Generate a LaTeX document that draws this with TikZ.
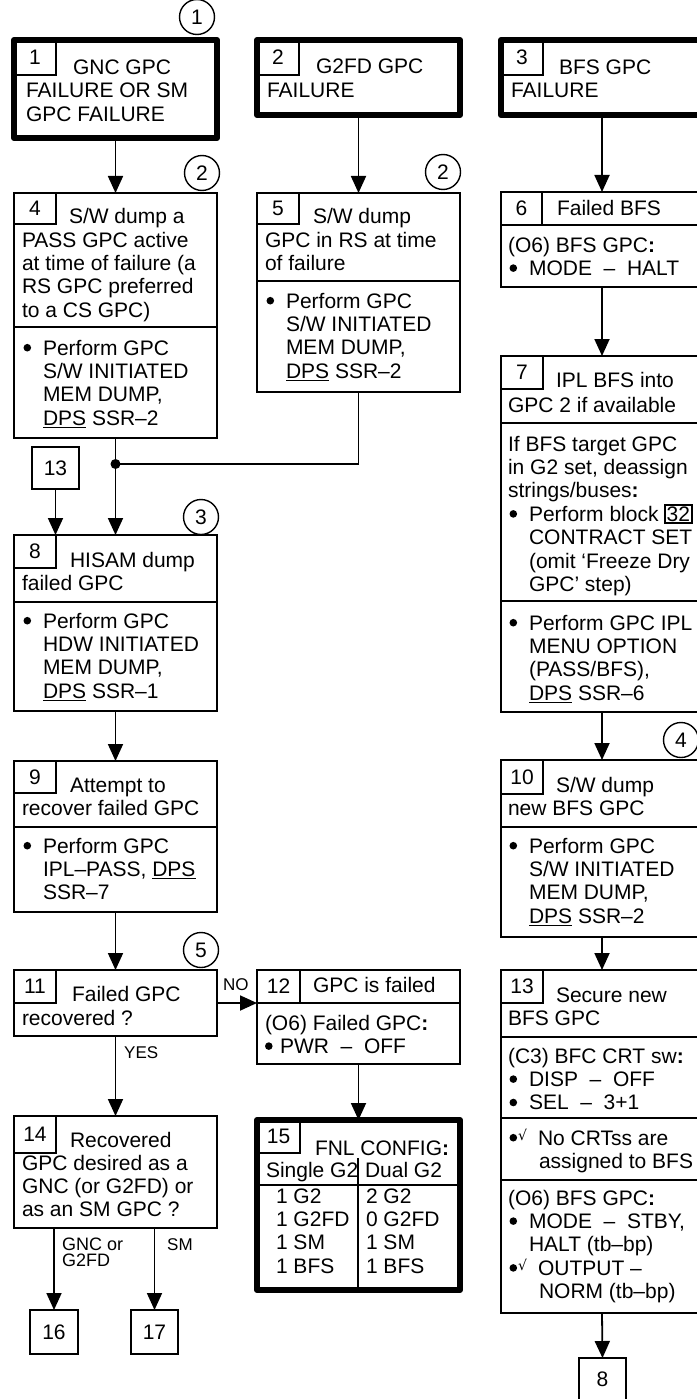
\documentclass[tikz,border=0pt]{standalone}
\usepackage{fontspec}
\setmainfont{Liberation Sans}
\newfontfamily\djvfont{DejaVu Sans}
\usetikzlibrary{arrows.meta}
\setlength\fboxsep{1pt}
\setlength\fboxrule{1.4pt}
\newcommand\mydot{\raisebox{3.5pt}{\tikz\fill (0,0) circle (3.8pt);}}
\newcommand\myblt{\makebox[21pt][l]{\hspace{1.5pt}\mydot}}
\newcommand\myind{\hspace*{21pt}}
\newcommand\mybck{\makebox[30pt][l]{\hspace{1.5pt}\mydot\hspace{1pt}\raisebox{5pt}{\djvfont\fontsize{14}{14}\selectfont √}}}
\newcommand\myindd{\hspace*{31pt}}
\newcommand\mycln{\textbf{:}}
\newcommand\mydsh{\ \ –\ \ }
\newcommand\mybx[7][]{\pgfmathsetmacro\bxw{#5-#3}\pgfmathsetmacro\bxh{#6-#4}%
  \node[boxst,minimum width=\bxw pt,minimum height=\bxh pt,anchor=north west,#1] (#2) at (#3,#4) {#7};}
\newcommand\mytx[4]{\node[txt] (#1) at (#2,#3) {\begin{tabular}[t]{@{}l@{}}#4\end{tabular}};}
\begin{document}
\begin{tikzpicture}[x=1pt,y=-1pt,
  every node/.style={font=\fontsize{21}{23.4}\selectfont},
  boxst/.style={draw,line width=1.8pt,inner sep=0pt,outer sep=0pt},
  thickbox/.style={line width=6pt,line join=round},
  txt/.style={anchor=base west,inner sep=0pt,outer sep=0pt},
  conn/.style={line width=1.8pt},
  arr/.style={conn,-{Triangle[width=15pt,length=17pt]}},
  circ/.style={draw,circle,line width=1.4pt,minimum size=35pt,inner sep=0pt},
  lbl/.style={anchor=base west,inner sep=0pt,font=\fontsize{16}{16}\selectfont},
  divl/.style={line width=1.8pt}]
\useasboundingbox (0,0) rectangle (696,1399);
\fill[white] (0,0) rectangle (696,1399);

% ---------- column 1 ----------
\node[circ] (c1) at (197,17) {1};
\mybx[thickbox]{b1}{14}{40}{217}{138}{}
\mybx{n1}{14}{40}{56}{75}{1}
\mytx{t1a}{73}{75}{GNC GPC}
\mytx{t1b}{26}{98}{FAILURE OR SM\\GPC FAILURE}

\node[circ] (c2a) at (202,173) {2};
\mybx{b4}{14}{193}{217}{438}{}
\mybx{n4}{14}{193}{56}{224}{4}
\mytx{t4a}{69}{223}{S/W dump a}
\mytx{t4b}{22}{247}{PASS GPC active\\at time of failure (a\\RS GPC preferred\\to a CS GPC)}
\draw[divl] (14,327) -- (217,327);
\mytx{t4c}{22}{355}{\myblt Perform GPC\\\myind S/W INITIATED\\\myind MEM DUMP,\\\myind \underline{DPS} SSR–2}

\mybx{s13}{32}{447}{79}{489}{13}
\node[circle,fill,inner sep=0pt,minimum size=10pt] (dot) at (115.5,464) {};
\node[circ] (c3) at (201,517) {3};
\mybx{b8}{14}{535}{217}{711}{}
\mybx{n8}{14}{535}{56}{568}{8}
\mytx{t8a}{70}{567}{HISAM dump}
\mytx{t8b}{22}{590}{failed GPC}
\draw[divl] (14,602) -- (217,602);
\mytx{t8c}{22}{628}{\myblt Perform GPC\\\myind HDW INITIATED\\\myind MEM DUMP,\\\myind \underline{DPS} SSR–1}

\mybx{b9}{14}{761}{217}{912}{}
\mybx{n9}{14}{761}{56}{793}{9}
\mytx{t9a}{70}{792}{Attempt to}
\mytx{t9b}{22}{815}{recover failed GPC}
\draw[divl] (14,827) -- (217,827);
\mytx{t9c}{22}{853}{\myblt Perform GPC\\\myind IPL–PASS, \underline{DPS}\\\myind SSR–7}

\node[circ] (c5) at (201,950) {5};
\mybx{b11}{14}{970}{217}{1036}{}
\mybx{n11}{14}{970}{56}{1003}{11}
\mytx{t11a}{72}{1001}{Failed GPC}
\mytx{t11b}{22}{1025}{recovered ?}

\mybx{b14}{14}{1116}{217}{1228}{}
\mybx{n14}{14}{1116}{56}{1153}{14}
\mytx{t14a}{70}{1147}{Recovered}
\mytx{t14b}{22}{1170}{GPC desired as a\\GNC (or G2FD) or\\as an SM GPC ?}

\mybx{b16}{30}{1310}{78}{1354}{16}
\mybx{b17}{131}{1310}{178}{1354}{17}
\node[lbl,font=\fontsize{18}{12}\selectfont] (l16) at (62,1250) {\begin{tabular}[t]{@{}l@{}}GNC or\\G2FD\end{tabular}};
\node[lbl,font=\fontsize{17}{17}\selectfont] (l17) at (167,1250) {SM};
\node[lbl,font=\fontsize{17}{17}\selectfont] (yes) at (124,1058) {YES};
\node[lbl,font=\fontsize{17}{17}\selectfont] (no) at (223,990) {NO};

% ---------- column 2 ----------
\mybx[thickbox]{b2}{257}{40}{460}{115}{}
\mybx{n2}{257}{40}{299}{75}{2}
\mytx{t2a}{316}{74}{G2FD GPC}
\mytx{t2b}{267}{98}{FAILURE}

\node[circ] (c2b) at (443,172) {2};
\mybx{b5}{257}{193}{460}{392}{}
\mybx{n5}{257}{193}{299}{224}{5}
\mytx{t5a}{313}{223}{S/W dump}
\mytx{t5b}{265}{247}{GPC in RS at time\\of failure}
\draw[divl] (257,281) -- (460,281);
\mytx{t5c}{265}{308}{\myblt Perform GPC\\\myind S/W INITIATED\\\myind MEM DUMP,\\\myind \underline{DPS} SSR–2}

\mybx{b12}{257}{970}{460}{1064}{}
\mybx{n12}{257}{970}{300}{1003}{12}
\draw[divl] (300,1003) -- (460,1003);
\mytx{t12a}{313}{992}{GPC is failed}
\mytx{t12b}{265}{1030}{(O6) Failed GPC\mycln\\\makebox[15pt][l]{\mydot}PWR\mydsh OFF}

\mybx[thickbox]{b15}{257}{1120}{460}{1290}{}
\mybx{n15}{257}{1120}{300}{1153}{15}
\mytx{t15a}{315}{1155}{FNL CONFIG\mycln}
\mytx{t15b}{266}{1177}{Single G2}
\mytx{t15c}{365}{1177}{Dual G2}
\draw[divl] (257,1185) -- (460,1185);
\draw[divl] (358,1158) -- (358,1290);
\mytx{t15d}{276}{1203}{1 G2\\1 G2FD\\1 SM\\1 BFS}
\mytx{t15e}{366}{1203}{2 G2\\0 G2FD\\1 SM\\1 BFS}

% ---------- column 3 ----------
\mybx[thickbox]{b3}{501}{40}{703}{115}{}
\mybx{n3}{501}{40}{543}{75}{3}
\mytx{t3a}{559}{75}{BFS GPC}
\mytx{t3b}{511}{98}{FAILURE}

\mybx{b6}{501}{192}{703}{287}{}
\mybx{n6}{501}{192}{542}{225}{6}
\draw[divl] (542,225) -- (703,225);
\mytx{t6a}{557}{215}{Failed BFS}
\mytx{t6b}{508}{252}{(O6) BFS GPC\mycln\\\myblt MODE\mydsh HALT}

\mybx{b7}{501}{356}{703}{712}{}
\mybx{n7}{501}{356}{543}{389}{7}
\mytx{t7a}{556}{387}{IPL BFS into}
\mytx{t7b}{508}{412}{GPC 2 if available}
\draw[divl] (501,423) -- (703,423);
\mytx{t7c}{508}{451}{If BFS target GPC\\in G2 set, deassign\\strings/buses\mycln\\\myblt Perform block \smash{\fbox{32}}\\\myind CONTRACT SET\\\myind (omit ‘Freeze Dry\\\myind GPC’ step)}
\draw[divl] (501,601) -- (703,601);
\mytx{t7d}{508}{630}{\myblt Perform GPC IPL\\\myind MENU OPTION\\\myind (PASS/BFS),\\\myind \underline{DPS} SSR–6}
\node[circ] (c4) at (681,740) {4};

\mybx{b10}{501}{760}{703}{937}{}
\mybx{n10}{501}{760}{543}{794}{10}
\mytx{t10a}{556}{792}{S/W dump}
\mytx{t10b}{508}{815}{new BFS GPC}
\draw[divl] (501,827) -- (703,827);
\mytx{t10c}{508}{853}{\myblt Perform GPC\\\myind S/W INITIATED\\\myind MEM DUMP,\\\myind \underline{DPS} SSR–2}

\mybx{b13}{501}{970}{703}{1313}{}
\mybx{n13}{501}{970}{543}{1003}{13}
\mytx{t13a}{556}{1002}{Secure new}
\mytx{t13b}{508}{1025}{BFS GPC}
\draw[divl] (501,1037) -- (703,1037);
\mytx{t13c}{508}{1063}{(C3) BFC CRT sw\mycln\\\myblt DISP\mydsh OFF\\\myblt SEL\mydsh 3+1}
\draw[divl] (501,1118) -- (703,1118);
\mytx{t13d}{508}{1145}{\mybck No CRTss are\\\myindd assigned to BFS}
\draw[divl] (501,1180) -- (703,1180);
\mytx{t13e}{508}{1205}{(O6) BFS GPC\mycln\\\myblt MODE\mydsh STBY,\\\myind HALT (tb–bp)\\\mybck OUTPUT –\\\myindd NORM (tb–bp)}
\mybx{b8b}{579}{1358}{626}{1400}{8}

% ---------- connectors ----------
\draw[arr] (b1.south) -- (b4.north);
\draw[arr] (b2.south) -- (b5.north);
\draw[arr] (b3.south) -- (b6.north);
\draw[conn] (b5.south) |- (dot.center);
\draw[arr] (b4.south) -- (b8.north);
\draw[arr] (s13.south) -- (s13.south |- b8.north);
\draw[arr] (b8.south) -- (b9.north);
\draw[arr] (b9.south) -- (b11.north);
\draw[arr] (b11.east) -- (n12.south west);
\draw[arr] (b11.south) -- (b14.north);
\draw[arr] (b12.south) -- (b15.north);
\draw[arr] (b16.north |- b14.south) -- (b16.north);
\draw[arr] (b17.north |- b14.south) -- (b17.north);
\draw[arr] (b6.south) -- (b7.north);
\draw[arr] (b7.south) -- (b10.north);
\draw[arr] (b10.south) -- (b13.north);
\draw[arr] (b13.south) -- (b8b.north);
\end{tikzpicture}
\end{document}
